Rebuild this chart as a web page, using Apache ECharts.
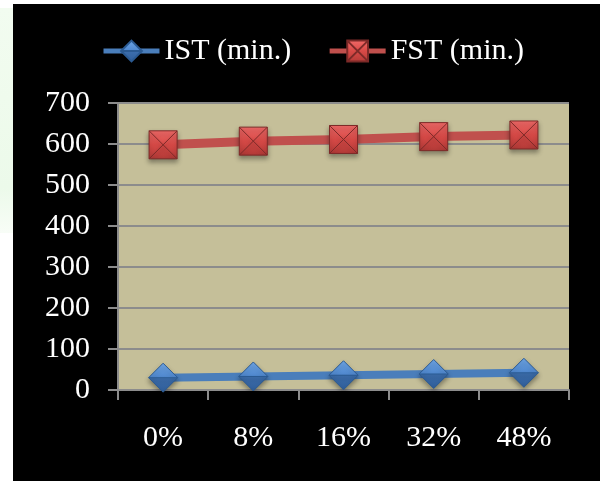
<!DOCTYPE html>
<html>
<head>
<meta charset="utf-8">
<script src="https://cdn.jsdelivr.net/npm/echarts@6/dist/echarts.min.js"></script>
<style>
  html, body { margin: 0; padding: 0; background: #ffffff; }
  #chart { width: 600px; height: 481px; }
</style>
</head>
<body>
<div id="chart"></div>
<script>
// Setting-time data per replacement level
const categories = ['0%', '8%', '16%', '32%', '48%'];
const istValues = [30, 33, 36, 39, 42];
const fstValues = [598, 607, 611, 618, 622];
const seriesNames = ['IST (min.)', 'FST (min.)'];

const FONT = "'Liberation Serif', 'Times New Roman', serif";

// Pyramid-like markers: outline plus facet edges
const squareSymbol = 'path://M0,0L20,0L20,20L0,20Z M0,0L20,20 M20,0L0,20';
const diamondSymbol = 'path://M10,0L20,10L10,20L0,10Z M0,10L20,10';

const chart = echarts.init(document.getElementById('chart'));

chart.setOption({
  backgroundColor: '#ffffff',
  animation: false,
  graphic: [
    {
      type: 'rect', silent: true, z: -10,
      shape: { x: 0, y: 8, width: 13, height: 225 },
      style: {
        fill: new echarts.graphic.LinearGradient(0, 0, 0, 1, [
          { offset: 0, color: '#f2fcf0' },
          { offset: 0.8, color: '#ecfaea' },
          { offset: 1, color: '#f8fdf7' }
        ])
      }
    },
    {
      type: 'rect', silent: true, z: -9,
      shape: { x: 13, y: 4, width: 587, height: 477 },
      style: { fill: '#000000' }
    }
  ],
  legend: {
    left: 96,
    top: 31,
    itemWidth: 56,
    itemHeight: 26,
    itemGap: 36,
    lineStyle: { width: 5 },
    textStyle: { color: '#ffffff', fontFamily: FONT, fontSize: 30 },
    data: seriesNames
  },
  grid: {
    left: 118, top: 103, width: 451, height: 287,
    show: true, backgroundColor: '#c5bf99', borderWidth: 0
  },
  xAxis: {
    type: 'category',
    data: categories,
    boundaryGap: true,
    axisLine: { show: true, lineStyle: { color: '#8c8c8c', width: 2 } },
    axisTick: { show: true, length: 10, inside: false, lineStyle: { color: '#8c8c8c', width: 2 } },
    axisLabel: { color: '#ffffff', fontFamily: FONT, fontSize: 30, margin: 33 },
    splitLine: { show: false }
  },
  yAxis: {
    type: 'value',
    min: 0, max: 700, interval: 100,
    axisLine: { show: true, lineStyle: { color: '#8c8c8c', width: 2 } },
    axisTick: { show: true, length: 10, lineStyle: { color: '#8c8c8c', width: 2 } },
    axisLabel: { color: '#ffffff', fontFamily: FONT, fontSize: 30, margin: 28 },
    splitLine: { show: true, lineStyle: { color: '#8c8c8c', width: 2 } }
  },
  series: [
    {
      name: seriesNames[0],
      type: 'line',
      data: istValues,
      symbol: diamondSymbol,
      symbolSize: 29,
      lineStyle: { color: '#4a7ebb', width: 8 },
      itemStyle: {
        color: new echarts.graphic.LinearGradient(0, 0, 0, 1, [
          { offset: 0, color: '#6fa6e6' },
          { offset: 0.5, color: '#4f88cf' },
          { offset: 0.5, color: '#3d6fae' },
          { offset: 1, color: '#2f5d99' }
        ]),
        borderColor: '#2b5a92',
        borderWidth: 1,
        shadowBlur: 5,
        shadowOffsetY: 3,
        shadowColor: 'rgba(0,0,0,0.35)'
      },
      z: 3
    },
    {
      name: seriesNames[1],
      type: 'line',
      data: fstValues,
      symbol: squareSymbol,
      symbolSize: 28,
      lineStyle: { color: '#c0504d', width: 9 },
      itemStyle: {
        color: new echarts.graphic.LinearGradient(0, 0, 0, 1, [
          { offset: 0, color: '#f26b69' },
          { offset: 0.5, color: '#d84a47' },
          { offset: 1, color: '#b33a37' }
        ]),
        borderColor: '#7d2a28',
        borderWidth: 1,
        shadowBlur: 5,
        shadowOffsetY: 3,
        shadowColor: 'rgba(0,0,0,0.35)'
      },
      z: 3
    }
  ]
});
</script>
</body>
</html>
